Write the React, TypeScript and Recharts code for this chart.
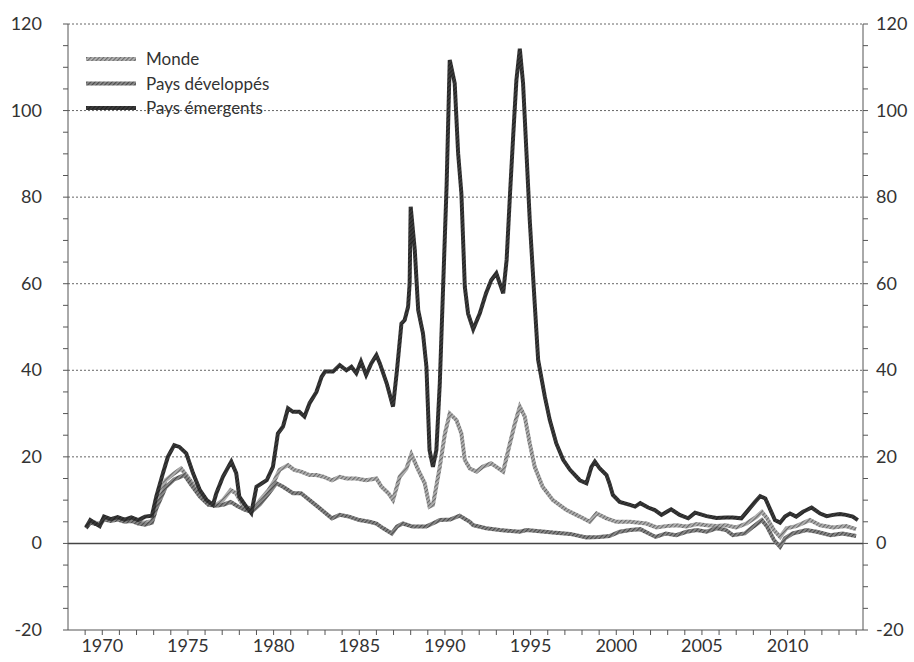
import React from 'react';
import {
  LineChart,
  Line,
  XAxis,
  YAxis,
  ReferenceLine
} from 'recharts';

// [année, valeur]
const monde: [number, number][] = [
  [1969.05, 3.8], [1969.3, 5.0], [1969.6, 4.8], [1969.85, 4.5], [1970.1, 5.8], [1970.5, 5.5],
  [1970.9, 5.8], [1971.3, 5.3], [1971.7, 5.6], [1972.1, 5.0], [1972.5, 4.8], [1972.9, 5.2],
  [1973.15, 9.3], [1973.7, 14.6], [1974.2, 16.2], [1974.6, 17.3], [1974.9, 15.8], [1975.4, 13.1],
  [1975.9, 10.4], [1976.27, 8.9], [1976.66, 8.9], [1977.04, 10.0], [1977.5, 12.3], [1977.8, 11.6],
  [1978.2, 8.9], [1978.6, 8.1], [1978.8, 7.7], [1979.2, 10.0], [1979.7, 12.3], [1980.06, 14.6],
  [1980.35, 17.0], [1980.84, 18.1], [1981.2, 17.0], [1981.6, 16.6], [1982.1, 15.8], [1982.5, 15.8],
  [1982.9, 15.4], [1983.4, 14.6], [1983.86, 15.4], [1984.25, 15.0], [1984.8, 15.0], [1985.4, 14.6],
  [1986.0, 15.0], [1986.3, 13.1], [1986.7, 11.6], [1986.97, 10.0], [1987.36, 15.4], [1987.75, 17.3],
  [1988.04, 20.6], [1988.44, 17.0], [1988.82, 13.9], [1989.1, 8.5], [1989.3, 8.9], [1989.7, 17.7],
  [1990.0, 25.4], [1990.28, 30.0], [1990.67, 28.5], [1990.96, 25.4], [1991.16, 19.3], [1991.45, 17.3],
  [1991.84, 16.6], [1992.2, 17.7], [1992.7, 18.5], [1993.0, 17.7], [1993.4, 16.6], [1993.7, 21.6],
  [1994.08, 27.7], [1994.37, 31.6], [1994.66, 29.3], [1994.95, 23.1], [1995.24, 17.7], [1995.7, 13.1],
  [1996.3, 10.0], [1997.1, 7.7], [1997.87, 6.2], [1998.45, 5.0], [1998.85, 6.9], [1999.43, 5.8],
  [2000.0, 5.0], [2000.8, 5.0], [2001.76, 4.6], [2002.35, 3.7], [2002.9, 4.0], [2003.5, 4.2],
  [2004.1, 3.9], [2004.7, 4.5], [2005.27, 4.2], [2005.85, 4.0], [2006.4, 4.2], [2007.0, 3.7],
  [2007.6, 4.6], [2008.2, 6.2], [2008.5, 7.3], [2008.8, 5.8], [2009.2, 3.1], [2009.56, 1.5],
  [2009.94, 3.5], [2010.5, 4.0], [2011.3, 5.4], [2011.9, 4.2], [2012.66, 3.7], [2013.4, 4.0],
  [2014.0, 3.3]
];

const developpes: [number, number][] = [
  [1969.05, 3.5], [1969.3, 4.8], [1969.6, 4.5], [1969.85, 4.2], [1970.1, 5.5], [1970.5, 5.2],
  [1970.9, 5.5], [1971.3, 5.0], [1971.7, 5.2], [1972.1, 4.6], [1972.5, 4.3], [1972.9, 4.8],
  [1973.15, 8.0], [1973.7, 13.0], [1974.2, 14.8], [1974.8, 15.8], [1975.2, 13.5], [1975.7, 10.8],
  [1976.2, 8.9], [1976.66, 8.7], [1977.1, 9.0], [1977.5, 9.6], [1977.9, 8.6], [1978.3, 7.8],
  [1978.7, 7.3], [1979.2, 9.0], [1979.7, 11.5], [1980.16, 13.9], [1980.55, 13.1], [1981.13, 11.6],
  [1981.6, 11.6], [1982.1, 10.0], [1982.7, 8.1], [1983.4, 5.8], [1983.86, 6.6], [1984.4, 6.2],
  [1985.0, 5.4], [1985.6, 5.0], [1986.0, 4.6], [1986.4, 3.5], [1986.9, 2.3], [1987.2, 3.9],
  [1987.55, 4.6], [1988.1, 3.9], [1988.9, 3.9], [1989.5, 5.0], [1989.7, 5.4], [1990.3, 5.5],
  [1990.86, 6.4], [1991.45, 5.0], [1991.65, 4.2], [1992.4, 3.5], [1993.2, 3.1], [1994.37, 2.7],
  [1994.76, 3.1], [1996.3, 2.5], [1997.3, 2.2], [1998.26, 1.4], [1999.0, 1.5], [1999.6, 1.7],
  [2000.2, 2.7], [2000.8, 3.1], [2001.4, 3.3], [2001.9, 2.3], [2002.3, 1.5], [2002.9, 2.3],
  [2003.5, 1.9], [2004.1, 2.7], [2004.7, 3.1], [2005.27, 2.7], [2005.85, 3.5], [2006.4, 3.1],
  [2006.8, 1.9], [2007.5, 2.3], [2008.0, 3.9], [2008.5, 5.4], [2008.8, 3.9], [2009.2, 0.8],
  [2009.56, -0.8], [2009.85, 1.2], [2010.3, 2.3], [2011.1, 3.1], [2011.7, 2.7], [2012.5, 1.9],
  [2013.2, 2.3], [2014.0, 1.7]
];

const emergents: [number, number][] = [
  [1969.05, 3.7], [1969.3, 5.4], [1969.6, 4.6], [1969.85, 4.0], [1970.1, 6.2], [1970.5, 5.6],
  [1970.9, 6.1], [1971.3, 5.5], [1971.7, 6.0], [1972.1, 5.4], [1972.5, 6.2], [1972.9, 6.4],
  [1973.15, 10.8], [1973.54, 16.2], [1973.83, 20.0], [1974.2, 22.7], [1974.5, 22.3], [1974.9, 20.8],
  [1975.3, 16.2], [1975.7, 12.3], [1976.1, 10.0], [1976.46, 8.9], [1976.66, 11.6], [1977.04, 15.4],
  [1977.53, 18.9], [1977.82, 16.2], [1978.0, 10.8], [1978.4, 8.5], [1978.7, 7.0], [1979.0, 13.1],
  [1979.6, 14.6], [1979.96, 17.7], [1980.25, 25.4], [1980.55, 27.0], [1980.84, 31.2], [1981.13, 30.4],
  [1981.5, 30.4], [1981.8, 29.3], [1982.1, 32.4], [1982.5, 35.0], [1982.8, 38.5], [1983.0, 39.7],
  [1983.47, 39.7], [1983.86, 41.2], [1984.25, 40.0], [1984.54, 40.8], [1984.83, 39.3], [1985.1, 42.0],
  [1985.4, 38.9], [1985.7, 41.6], [1986.0, 43.5], [1986.2, 41.6], [1986.6, 37.0], [1986.97, 31.6],
  [1987.2, 40.0], [1987.46, 50.8], [1987.65, 51.6], [1987.85, 54.7], [1987.94, 60.1], [1988.0, 77.8],
  [1988.24, 67.8], [1988.44, 53.9], [1988.72, 48.5], [1988.92, 40.8], [1989.1, 21.6], [1989.3, 17.7],
  [1989.5, 21.6], [1989.7, 37.0], [1989.9, 60.0], [1990.1, 83.0], [1990.28, 111.7], [1990.57, 106.3],
  [1990.77, 90.1], [1990.96, 80.9], [1991.16, 59.3], [1991.35, 53.1], [1991.65, 49.5], [1992.03, 53.1],
  [1992.4, 57.8], [1992.7, 60.8], [1993.0, 62.4], [1993.2, 60.1], [1993.4, 57.8], [1993.6, 65.5],
  [1993.8, 80.9], [1993.98, 93.9], [1994.17, 107.0], [1994.37, 114.3], [1994.56, 106.3], [1994.76, 90.1],
  [1994.95, 74.7], [1995.24, 55.4], [1995.44, 42.4], [1995.83, 33.9], [1996.12, 28.5], [1996.5, 23.1],
  [1996.9, 19.3], [1997.3, 17.0], [1997.87, 14.6], [1998.26, 13.9], [1998.55, 17.7], [1998.75, 18.9],
  [1999.04, 17.3], [1999.43, 15.8], [1999.6, 13.9], [1999.8, 11.2], [2000.2, 9.6], [2000.8, 8.9],
  [2001.1, 8.5], [2001.4, 9.3], [2001.86, 8.3], [2002.25, 7.7], [2002.64, 6.6], [2003.2, 7.9],
  [2003.7, 6.6], [2004.2, 5.8], [2004.6, 7.1], [2005.27, 6.3], [2005.85, 5.9], [2006.4, 6.0],
  [2006.8, 6.0], [2007.3, 5.8], [2007.7, 7.7], [2008.1, 9.6], [2008.4, 10.9], [2008.7, 10.4],
  [2009.0, 7.7], [2009.26, 5.4], [2009.56, 4.8], [2009.85, 6.2], [2010.14, 6.9], [2010.5, 6.2],
  [2010.9, 7.3], [2011.4, 8.3], [2011.9, 6.9], [2012.28, 6.3], [2012.66, 6.6], [2013.05, 6.8],
  [2013.4, 6.6], [2013.8, 6.2], [2014.1, 5.4]
];

const xLabels = [1970, 1975, 1980, 1985, 1990, 1995, 2000, 2005, 2010];
const xMinorTicks = [
  1969, 1970, 1971, 1972, 1973, 1974, 1975, 1976, 1977, 1978, 1979, 1980, 1981, 1982, 1983, 1984,
  1985, 1986, 1987, 1988, 1989, 1990, 1991, 1992, 1993, 1994, 1995, 1996, 1997, 1998, 1999, 2000,
  2001, 2002, 2003, 2004, 2005, 2006, 2007, 2008, 2009, 2010, 2011, 2012, 2013, 2014
];
const yLabels = [-20, 0, 20, 40, 60, 80, 100, 120];
const yMinorTicks = [-20, -15, -10, -5, 0, 5, 10, 15, 20, 25, 30, 35, 40, 45, 50, 55, 60, 65, 70, 75, 80, 85, 90, 95, 100, 105, 110, 115, 120];

// the scan shows hatched strokes, so each line gets a small stripe pattern
const series = [
  { name: 'Monde', points: monde, base: '#b4b4b4', stripe: '#6a6a6a', axis: 'left' },
  { name: 'Pays développés', points: developpes, base: '#8c8c8c', stripe: '#4a4a4a', axis: 'left' },
  { name: 'Pays émergents', points: emergents, base: '#3c3c3c', stripe: '#222', axis: 'right' }
];

const FONT = 'Lato, "Noto Sans", sans-serif';

const toRows = (pts: [number, number][]) => pts.map(([t, v]) => ({ t, v }));
const patId = (i: number) => `hatch-${i}`;

const YTick = (props: any) => {
  const { x, y, payload, textAnchor } = props;
  if (!yLabels.includes(payload.value)) return <g />;
  return (
    <text x={x} y={y} dy={6} textAnchor={textAnchor} fontSize={18} fill="#333" fontFamily={FONT}>
      {payload.value}
    </text>
  );
};

const XTick = (props: any) => {
  const { x, y, payload } = props;
  if (!xLabels.includes(payload.value)) return <g />;
  return (
    <text x={x} y={y} dy={13} textAnchor="middle" fontSize={18} fill="#333" fontFamily={FONT}>
      {payload.value}
    </text>
  );
};

const Hatch = ({ id, base, stripe }: { id: string; base: string; stripe: string }) => (
  <pattern id={id} patternUnits="userSpaceOnUse" width={3} height={3} patternTransform="rotate(45)">
    <rect width={3} height={3} fill={base} />
    <rect width={1.2} height={3} fill={stripe} />
  </pattern>
);

// légende posée dans la zone de tracé, en haut à gauche
const LegendBox = () => (
  <svg
    width={260}
    height={80}
    style={{ position: 'absolute', left: 80, top: 45, pointerEvents: 'none' }}
  >
    <defs>
      {series.map((s, i) => (
        <Hatch key={s.name} id={`leg-${patId(i)}`} base={s.base} stripe={s.stripe} />
      ))}
    </defs>
    {series.map((s, i) => (
      <g key={s.name} transform={`translate(0, ${14 + i * 24.5})`}>
        <rect x={6} y={-2} width={50} height={4} fill={`url(#leg-${patId(i)})`} />
        <text x={66} y={6} fontSize={17} fill="#333" fontFamily={FONT}>
          {s.name}
        </text>
      </g>
    ))}
  </svg>
);

export default function App() {
  return (
    <div style={{ position: 'absolute', left: 0, top: 0, width: 914, height: 662, background: '#fff' }}>
      <LineChart width={914} height={662} margin={{ top: 24, right: 0, bottom: 0, left: 0 }}>
        <defs>
          {series.map((s, i) => (
            <Hatch key={s.name} id={patId(i)} base={s.base} stripe={s.stripe} />
          ))}
        </defs>
        <XAxis
          type="number"
          dataKey="t"
          domain={[1968, 2014.4]}
          allowDataOverflow
          ticks={xMinorTicks}
          interval={0}
          tick={<XTick />}
          tickSize={5}
          tickMargin={4}
          height={32}
          axisLine={{ stroke: '#555' }}
          tickLine={{ stroke: '#555' }}
        />
        <YAxis
          yAxisId="left"
          orientation="left"
          domain={[-20, 120]}
          allowDataOverflow
          ticks={yMinorTicks}
          interval={0}
          width={68}
          tick={<YTick />}
          tickSize={5}
          tickMargin={21}
          axisLine={{ stroke: '#555' }}
          tickLine={{ stroke: '#555' }}
        />
        <YAxis
          yAxisId="right"
          orientation="right"
          domain={[-20, 120]}
          allowDataOverflow
          ticks={yMinorTicks}
          interval={0}
          width={51}
          tick={<YTick />}
          tickSize={5}
          tickMargin={8}
          axisLine={{ stroke: '#555' }}
          tickLine={{ stroke: '#555' }}
        />
        {yLabels
          .filter((v) => v > 0)
          .map((v) => (
            <ReferenceLine key={v} yAxisId="left" y={v} stroke="#666" strokeDasharray="2 2" />
          ))}
        <ReferenceLine yAxisId="left" y={0} stroke="#444" strokeWidth={1.5} />
        {series.map((s, i) => (
          <Line
            key={s.name}
            yAxisId={s.axis}
            data={toRows(s.points)}
            dataKey="v"
            name={s.name}
            type="linear"
            stroke={`url(#${patId(i)})`}
            strokeWidth={4}
            dot={false}
            isAnimationActive={false}
          />
        ))}
      </LineChart>
      <LegendBox />
    </div>
  );
}
